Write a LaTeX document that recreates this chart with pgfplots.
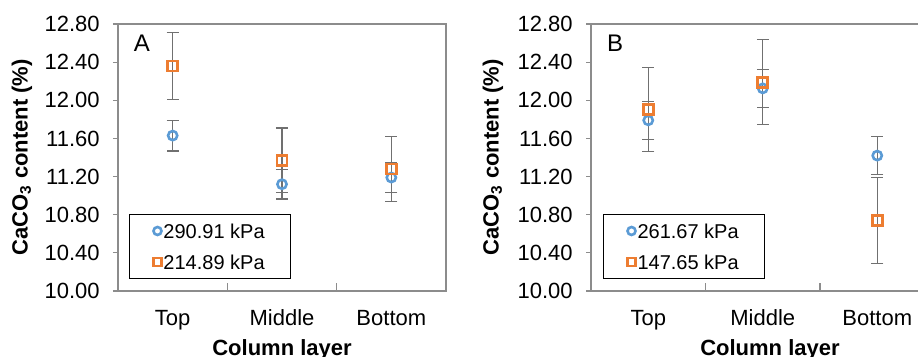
\documentclass[border=0pt]{standalone}
\usepackage{fontspec}
\setmainfont{Liberation Sans}
\usepackage{pgfplots}
\pgfplotsset{compat=1.18}
\definecolor{cblue}{HTML}{5B9BD5}
\definecolor{corange}{HTML}{ED7D31}
\definecolor{errgray}{HTML}{707070}
\definecolor{framegray}{HTML}{8C8C8C}

\pgfplotstableread{
x y e
0 11.63 0.16
1 11.12 0.155
2 11.19 0.16
}\Ablue
\pgfplotstableread{
x y e
0 12.36 0.35
1 11.37 0.34
2 11.28 0.34
}\Aorange
\pgfplotstableread{
x y e
0 11.79 0.20
1 12.125 0.20
2 11.42 0.20
}\Bblue
\pgfplotstableread{
x y e
0 11.905 0.44
1 12.19 0.445
2 10.74 0.45
}\Borange

\pgfplotsset{
  panel/.style={
    scale only axis, height=133.5bp,
    ymin=10, ymax=12.8, xmin=-0.5, xmax=2.5,
    ytick={10,10.4,10.8,11.2,11.6,12,12.4,12.8},
    yticklabel={\pgfmathprintnumber[fixed,fixed zerofill,precision=2]{\tick}},
    /pgf/number format/assume math mode=true,
    xtick={0,1,2}, xticklabels={Top,Middle,Bottom},
    xtick style={draw=none},
    ytick style={draw=framegray, line width=0.6bp},
    tick align=outside, major tick length=2.5bp,
    ytick pos=left, xtick pos=bottom,
    axis line style={draw=framegray, line width=0.6bp},
    tick label style={font=\fontsize{11bp}{13bp}\selectfont, text=black},
    yticklabel style={inner sep=0pt, xshift=-6.5bp},
    xticklabel style={inner sep=0pt, text height=8bp, text depth=0pt, anchor=north, yshift=-6.5bp},
    label style={font=\bfseries\fontsize{11bp}{13bp}\selectfont},
    xlabel={Column layer},
    ylabel={CaCO\textsubscript{3} content (\%)},
    xlabel style={at={(rel axis cs:0.5,0)}, anchor=base, yshift=-32bp},
    legend cell align=left,
    legend image code/.code={\draw[mark size=2bp] plot coordinates {(0bp,0bp)};},
    legend style={anchor=south west, draw=black, line width=0.5bp,
      font=\fontsize{10bp}{12bp}\selectfont,
      inner xsep=12bp, inner ysep=3.5bp, row sep=6bp,
      nodes={inner sep=1bp, text height=7.5bp, text depth=0pt},
      /tikz/every even column/.append style={column sep=1.5bp}},
  },
  bluepl/.style={only marks, mark=o, draw=cblue, mark size=2.3bp,
    mark options={line width=1.3bp, draw=cblue},
    error bars/.cd, y dir=both, y explicit,
    error bar style={errgray, line width=0.7bp},
    error mark options={rotate=90, errgray, mark size=3bp, line width=0.7bp}},
  orangepl/.style={only marks, mark=square, draw=corange, mark size=2.5bp,
    mark options={line width=1.4bp, draw=corange},
    error bars/.cd, y dir=both, y explicit,
    error bar style={errgray, line width=0.7bp},
    error mark options={rotate=90, errgray, mark size=3bp, line width=0.7bp}},
}

\begin{document}
\begin{tikzpicture}
\useasboundingbox (0,0) rectangle (459bp,178.5bp);
\begin{axis}[panel, width=164bp, at={(59bp,33bp)}, anchor=south west,
  ylabel style={at={(rel axis cs:-0.2927,0.5)}, anchor=center, rotate=0},
  legend style={at={(0.0335,0.045)}}]
\addplot[bluepl] table[x=x,y=y,y error=e] {\Ablue};
\addlegendentry{290.91 kPa}
\addplot[orangepl] table[x=x,y=y,y error=e] {\Aorange};
\addlegendentry{214.89 kPa}
\draw[framegray, line width=0.6bp] (axis cs:0.5,10) -- ++(0pt,3.8bp);
\draw[framegray, line width=0.6bp] (axis cs:1.5,10) -- ++(0pt,3.8bp);
\node[anchor=base west, inner sep=0pt, font=\fontsize{12bp}{14bp}\selectfont] at (rel axis cs:0.047,0.896) {A};
\end{axis}
\begin{axis}[panel, width=171.75bp, at={(295.5bp,33bp)}, anchor=south west,
  ylabel style={at={(rel axis cs:-0.2853,0.5)}, anchor=center, rotate=0},
  xlabel style={at={(rel axis cs:0.521,0)}},
  legend style={at={(0.035,0.045)}}]
\addplot[bluepl] table[x=x,y=y,y error=e] {\Bblue};
\addlegendentry{261.67 kPa}
\addplot[orangepl] table[x=x,y=y,y error=e] {\Borange};
\addlegendentry{147.65 kPa}
\draw[framegray, line width=0.6bp] (axis cs:0.5,10) -- ++(0pt,3.8bp);
\draw[framegray, line width=0.6bp] (axis cs:1.5,10) -- ++(0pt,3.8bp);
\node[anchor=base west, inner sep=0pt, font=\fontsize{12bp}{14bp}\selectfont] at (rel axis cs:0.046,0.896) {B};
\end{axis}
\end{tikzpicture}
\end{document}
